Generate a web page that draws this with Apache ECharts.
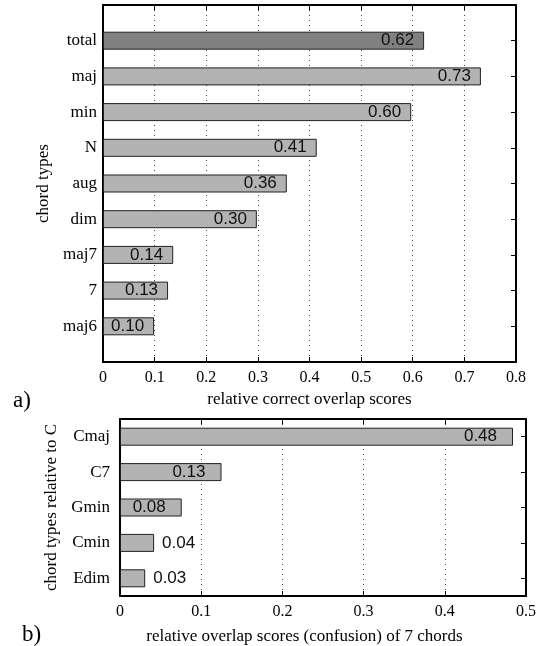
<!DOCTYPE html>
<html><head><meta charset="utf-8">
<script src="https://cdn.jsdelivr.net/npm/echarts@6/dist/echarts.min.js"></script>
<style>html,body{margin:0;padding:0;background:#fff}#c{width:539px;height:646px}</style>
</head><body><div id="c"></div>
<script>
// ---- data ----
const catsA = ['total','maj','min','N','aug','dim','maj7','7','maj6'];
const valsA = [0.622,0.732,0.597,0.414,0.356,0.298,0.136,0.126,0.099];
const catsB = ['Cmaj','C7','Gmin','Cmin','Edim'];
const valsB = [0.484,0.125,0.076,0.042,0.031];
const xTicksA = [0,0.1,0.2,0.3,0.4,0.5,0.6,0.7,0.8];
const xTicksB = [0,0.1,0.2,0.3,0.4,0.5];
const titleAx = 'relative correct overlap scores';
const titleAy = 'chord types';
const titleBx = 'relative overlap scores (confusion) of 7 chords';
const titleBy = 'chord types relative to C';

// ---- styling ----
const SERIF = '"Liberation Serif","Times New Roman",serif';
const SANS = '"Liberation Sans",Arial,sans-serif';
const LIGHT = '#b3b3b3', DARK = '#808080', EDGE = '#222';
const frameLine = {show:true, onZero:false, lineStyle:{color:'#000', width:2}};
const tickIn = {show:true, inside:true, length:5, lineStyle:{color:'#000', width:1}};
const dotted = {show:true, lineStyle:{color:'#444', width:1, type:[1,4]}};

const padCatsA = [''].concat(catsA, ['']);
const padValsA = [null].concat(valsA.map((v,i)=>({
  value:v,
  itemStyle:{color: i===0 ? DARK : LIGHT}
})), [null]);

const dataB = valsB.map(v => v < 0.05 ? {
  value:v, label:{position:'right', distance:8}
} : {value:v});

function xBottom(grid, ticks, name, gap, namePad){
  return {
    type:'value', gridIndex:grid, position:'bottom',
    min:ticks[0], max:ticks[ticks.length-1], interval:ticks[1]-ticks[0],
    axisLine:frameLine, axisTick:tickIn, splitLine:dotted,
    axisLabel:{color:'#000', fontFamily:SERIF, fontSize:16, margin:8},
    name:name, nameLocation:'middle', nameGap:gap,
    nameTextStyle:{color:'#000', fontFamily:SERIF, fontSize:17, padding:namePad}
  };
}
function xTop(grid, ticks){
  return {
    type:'value', gridIndex:grid, position:'top',
    min:ticks[0], max:ticks[ticks.length-1], interval:ticks[1]-ticks[0],
    axisLine:frameLine, axisTick:tickIn, axisLabel:{show:false}, splitLine:{show:false}
  };
}

const option = {
  animation:false,
  backgroundColor:'#fff',
  grid:[
    {left:103, top:5, width:413, height:357},
    {left:120, top:419, width:407, height:182}
  ],
  xAxis:[
    xBottom(0, xTicksA, titleAx, 26, [0,0,0,0]),
    xTop(0, xTicksA),
    xBottom(1, xTicksB, titleBx, 32, [0,37,0,0]),
    xTop(1, xTicksB)
  ],
  yAxis:[
    {type:'category', gridIndex:0, position:'left', data:padCatsA, inverse:true, boundaryGap:false,
     axisLine:frameLine, axisTick:{show:false}, splitLine:{show:false},
     axisLabel:{color:'#000', fontFamily:SERIF, fontSize:17, margin:6, interval:0},
     name:titleAy, nameLocation:'middle', nameGap:40,
     nameTextStyle:{color:'#000', fontFamily:SERIF, fontSize:17}},
    {type:'category', gridIndex:0, position:'right', data:padCatsA, inverse:true, boundaryGap:false,
     axisLine:frameLine, axisTick:Object.assign({}, tickIn, {interval:0}), axisLabel:{show:false}, splitLine:{show:false}},
    {type:'category', gridIndex:1, position:'left', data:catsB, inverse:true,
     axisLine:frameLine, axisTick:{show:false}, splitLine:{show:false},
     axisLabel:{color:'#000', fontFamily:SERIF, fontSize:17, margin:10, interval:0},
     name:titleBy, nameLocation:'middle', nameGap:53,
     nameTextStyle:{color:'#000', fontFamily:SERIF, fontSize:17}},
    {type:'category', gridIndex:1, position:'right', data:catsB, inverse:true,
     axisLine:frameLine, axisTick:Object.assign({}, tickIn, {alignWithLabel:true, interval:0}),
     axisLabel:{show:false}, splitLine:{show:false}}
  ],
  series:[
    {type:'bar', xAxisIndex:0, yAxisIndex:0, data:padValsA, barWidth:18,
     itemStyle:{borderColor:EDGE, borderWidth:1},
     label:{show:true, position:'insideRight', distance:10, color:'#111', fontFamily:SANS, fontSize:17,
       formatter:p => p.value.toFixed(2)}},
    {type:'bar', xAxisIndex:2, yAxisIndex:2, data:dataB, barWidth:18,
     itemStyle:{color:LIGHT, borderColor:EDGE, borderWidth:1},
     label:{show:true, position:'insideRight', distance:16, color:'#111', fontFamily:SANS, fontSize:17,
       formatter:p => p.value.toFixed(2)}}
  ],
  graphic:[
    {type:'text', left:13, top:389, style:{text:'a)', font:'23px '+SERIF, fill:'#000'}},
    {type:'text', left:22, top:623, style:{text:'b)', font:'23px '+SERIF, fill:'#000'}}
  ]
};
const chart = echarts.init(document.getElementById('c'), null, {renderer:'canvas'});
chart.setOption(option);
</script></body></html>
